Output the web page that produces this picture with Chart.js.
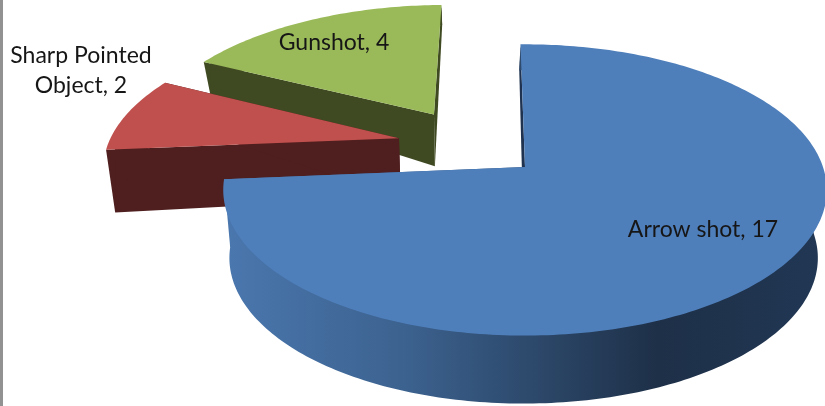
<!DOCTYPE html>
<html>
<head>
<meta charset="utf-8">
<style>
html,body{margin:0;padding:0;background:#fff;overflow:hidden}
#wrap{position:relative;width:825px;height:406px;overflow:hidden}
#stripe{position:absolute;left:0;top:0;width:3px;height:406px;background:#929292}
canvas{display:block;filter:blur(0.55px)}
</style>
<script src="https://cdn.jsdelivr.net/npm/chart.js@4"></script>
</head>
<body>
<div id="wrap"><canvas id="c" width="825" height="406"></canvas><div id="stripe"></div></div>
<script>
const categories = ["Arrow shot", "Sharp Pointed Object", "Gunshot"];
const values = [17, 2, 4];
const topColors = ["#4f7fbb", "#bf504d", "#9aba59"];
const wallColors = ["#1f3350", "#4f1e1e", "#3f4a22"];
const labelLines = [["Arrow shot, 17"], ["Sharp Pointed", "Object, 2"], ["Gunshot, 4"]];
const explode = [36, 39.5, 41];

const view = {cx:525, cy:167, rx:298, ry:142, k:0.1576};
const labelPos = [[703,230,0],[81,56,30],[334,43,0]];

function project(X, Z){
  const s = 1/(1 - view.k*Z);
  return [view.cx + view.rx*X*s, view.cy + view.ry*Z*s, Z];
}
function drop(p){
  const dy = p[2] >= 0 ? 68 : Math.max(20, 68 + 42*p[2]);
  return [p[0] + (470 - p[0])*0.025, p[1] + dy];
}
function path(ctx, pts){
  ctx.beginPath();
  pts.forEach((p,i)=> i ? ctx.lineTo(p[0],p[1]) : ctx.moveTo(p[0],p[1]));
  ctx.closePath();
}
const pie3d = {
  id:'pie3d',
  beforeDatasetsDraw(chart){
    const ctx = chart.ctx;
    const arcs = chart.getDatasetMeta(0).data;
    const base = arcs[0];
    const bm = (base.startAngle + base.endAngle)/2;
    const bo = base.options.offset/base.outerRadius;
    const bx = Math.cos(bm)*bo, bz = Math.sin(bm)*bo;
    [2,1,0].forEach(i=>{
      const a = arcs[i];
      const m = (a.startAngle + a.endAngle)/2;
      const o = a.options.offset/a.outerRadius;
      const ox = Math.cos(m)*o - bx, oz = Math.sin(m)*o - bz;
      const apex = project(ox, oz);
      const rim = [], inner = [];
      const n = Math.ceil((a.endAngle - a.startAngle)/(Math.PI/180));
      for(let j=0;j<=n;j++){
        const t = a.startAngle + (a.endAngle - a.startAngle)*j/n;
        rim.push(project(ox + Math.cos(t), oz + Math.sin(t)));
        inner.push(project(ox + 0.97*Math.cos(t), oz + 0.97*Math.sin(t)));
      }
      ctx.save();
      const dark = wallColors[i];
      let wall = dark;
      if(i===0){
        const g = ctx.createLinearGradient(225,0,825,0);
        g.addColorStop(0,"#4a77ae");
        g.addColorStop(0.3,"#3c628f");
        g.addColorStop(0.72,"#1e3048");
        g.addColorStop(1,"#213754");
        wall = g;
      }
      ctx.fillStyle = dark;
      path(ctx,[apex,rim[0],drop(rim[0]),drop(apex)]);
      ctx.fill();
      const last = rim[rim.length-1];
      ctx.fillStyle = wall;
      path(ctx,[apex,last,drop(last),drop(apex)]);
      ctx.fill();
      path(ctx, inner.concat(rim.slice().reverse().map(drop)));
      ctx.fill();
      ctx.fillStyle = a.options.backgroundColor;
      path(ctx,[apex].concat(rim));
      ctx.fill();
      ctx.restore();
    });
    ctx.save();
    ctx.fillStyle = "#161616";
    ctx.font = "23px Lato";
    ctx.textAlign = "center";
    ctx.textBaseline = "middle";
    labelLines.forEach((lines,i)=>{
      lines.forEach((t,j)=>ctx.fillText(t, labelPos[i][0], labelPos[i][1] + j*labelPos[i][2]));
    });
    ctx.restore();
    return false;
  }
};
new Chart(document.getElementById('c'),{
  type:'pie',
  data:{labels:categories,datasets:[{data:values,backgroundColor:topColors,offset:explode,borderWidth:0}]},
  options:{
    responsive:false,animation:false,rotation:-1,radius:150,
    layout:{padding:0},
    plugins:{legend:{display:false},tooltip:{enabled:false}}
  },
  plugins:[pie3d]
});
</script>
</body>
</html>
